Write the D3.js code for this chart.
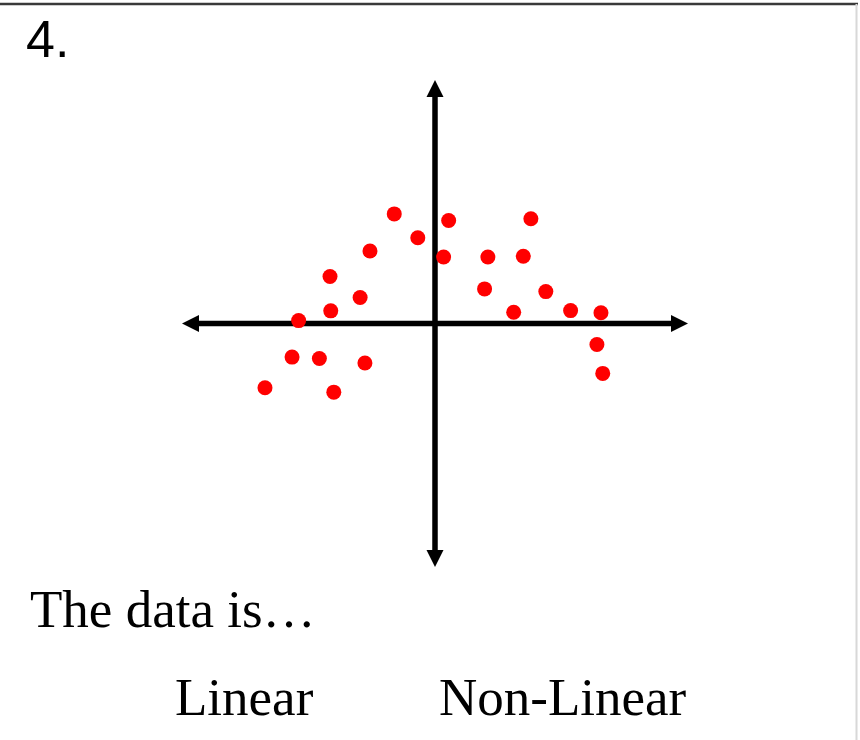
<!DOCTYPE html>
<html>
<head>
<meta charset="utf-8">
<script src="https://cdn.jsdelivr.net/npm/d3@7"></script>
<style>
  body { margin: 0; background: #fff; }
  svg { display: block; }
</style>
</head>
<body>
<script>
    var width = 860, height = 740;

    // scatter points, in axis units (origin at the crossing)
    var xValues = [-1.61, 0.54, -0.68, -2.57, 0.34, -4.15, -2.96, -4.12, -5.39, -5.65, -4.57, -2.77, -6.72, -4.00,
                   3.79, 2.09, 3.49, 1.96, 4.38, 3.11, 5.36, 6.56, 6.40, 6.63];
    var yValues = [4.50, 4.23, 3.52, 2.98, 2.73, 1.93, 1.07, 0.52, 0.12, -1.38, -1.44, -1.62, -2.64, -2.82,
                   4.30, 2.73, 2.76, 1.42, 1.31, 0.46, 0.53, 0.44, -0.86, -2.05];
    var axisDomain = [-10, 10];

    var questionLabel = "4.";
    var promptText = "The data is\u2026";
    var choices = ["Linear", "Non-Linear"];

    var points = xValues.map((x, i) => ({x: x, y: yValues[i]}));

    var svg = d3.select("body").append("svg")
        .attr("width", width)
        .attr("height", height);

    // page frame
    svg.append("line")
        .attr("x1", 0).attr("x2", 858)
        .attr("y1", 4).attr("y2", 4)
        .attr("stroke", "#3a3a3a")
        .attr("stroke-width", 2.5);
    svg.append("line")
        .attr("x1", 856.5).attr("x2", 856.5)
        .attr("y1", 4).attr("y2", height)
        .attr("stroke", "#d8d8d8")
        .attr("stroke-width", 2);

    svg.append("text")
        .attr("x", 26)
        .attr("y", 57)
        .style("font-family", "'Liberation Sans', Arial, sans-serif")
        .style("font-size", "52px")
        .attr("fill", "#000")
        .text(questionLabel);

    var x = d3.scaleLinear().domain(axisDomain).range([182, 688]);
    var y = d3.scaleLinear().domain(axisDomain).range([567, 80]);

    var head = 17, half = 8.5, stroke = 5.5;
    var axes = svg.append("g").attr("class", "axes");

    // horizontal axis
    axes.append("line")
        .attr("x1", x(axisDomain[0]) + head - 2).attr("x2", x(axisDomain[1]) - head + 2)
        .attr("y1", y(0)).attr("y2", y(0))
        .attr("stroke", "#000").attr("stroke-width", stroke);
    // vertical axis
    axes.append("line")
        .attr("x1", x(0)).attr("x2", x(0))
        .attr("y1", y(axisDomain[1]) + head - 2).attr("y2", y(axisDomain[0]) - head + 2)
        .attr("stroke", "#000").attr("stroke-width", stroke);

    var heads = [
        [[x(axisDomain[0]), y(0)], [x(axisDomain[0]) + head, y(0) - half], [x(axisDomain[0]) + head, y(0) + half]],
        [[x(axisDomain[1]), y(0)], [x(axisDomain[1]) - head, y(0) - half], [x(axisDomain[1]) - head, y(0) + half]],
        [[x(0), y(axisDomain[1])], [x(0) - half, y(axisDomain[1]) + head], [x(0) + half, y(axisDomain[1]) + head]],
        [[x(0), y(axisDomain[0])], [x(0) - half, y(axisDomain[0]) - head], [x(0) + half, y(axisDomain[0]) - head]]
    ];
    axes.selectAll("path")
        .data(heads)
        .enter().append("path")
        .attr("d", d => "M" + d.join("L") + "Z")
        .attr("fill", "#000");

    svg.append("g")
        .attr("class", "dots")
        .selectAll("circle")
        .data(points)
        .enter().append("circle")
        .attr("cx", d => x(d.x))
        .attr("cy", d => y(d.y))
        .attr("r", 7.5)
        .attr("fill", "#ff0000");

    var serif = "'Liberation Serif', 'Times New Roman', serif";
    svg.append("text")
        .attr("x", 30)
        .attr("y", 627)
        .style("font-family", serif)
        .style("font-size", "53px")
        .text(promptText);

    svg.selectAll(".choice")
        .data(choices)
        .enter().append("text")
        .attr("class", "choice")
        .attr("x", (d, i) => i === 0 ? 175 : 439)
        .attr("y", 715)
        .style("font-family", serif)
        .style("font-size", "53px")
        .text(d => d);
</script>
</body>
</html>
